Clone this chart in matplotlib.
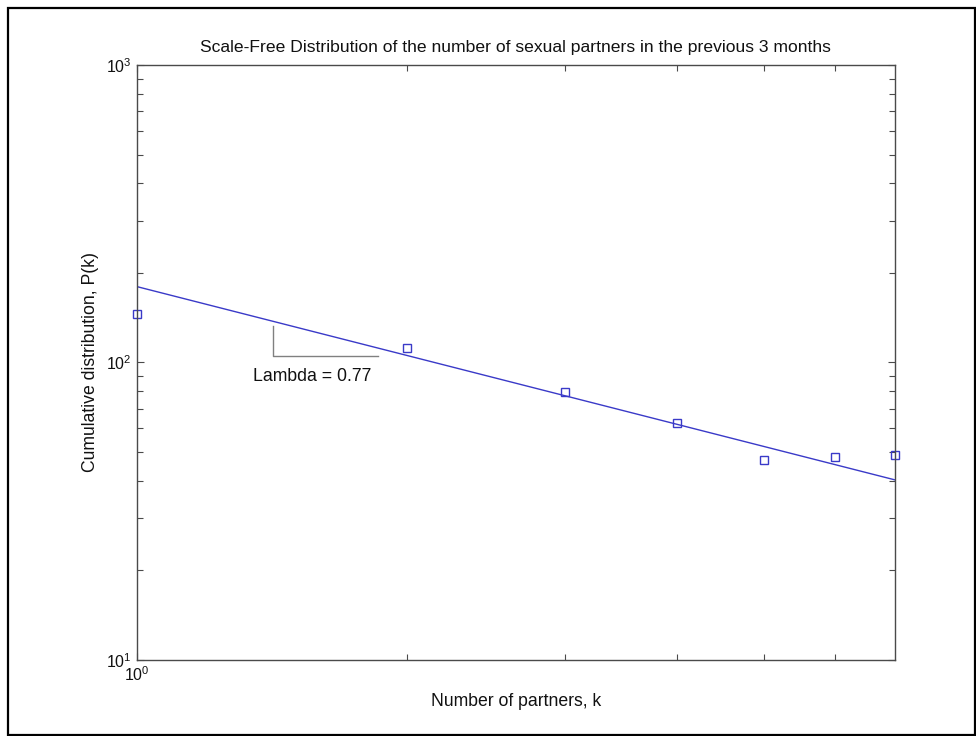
import matplotlib
matplotlib.use("Agg")
import matplotlib.pyplot as plt
from matplotlib.patches import Rectangle
from matplotlib.ticker import LogLocator, NullFormatter, FixedLocator

plt.rcParams['font.family'] = ['Liberation Sans', 'DejaVu Sans']
plt.rcParams['mathtext.fontset'] = 'custom'
plt.rcParams['mathtext.rm'] = 'Liberation Sans'
plt.rcParams['mathtext.it'] = 'Liberation Sans'

# Data
partners_k = [1, 2, 3, 4, 5, 6, 7]
cumulative_p = [146, 112, 79.3, 62.8, 47.1, 48.1, 48.8]
fit_k = [1, 7]
fit_p = [180, 40.3]
lambda_text = "Lambda = 0.77"
tri_k = [1.42, 1.42, 1.857]
tri_p = [132.8, 105.3, 105.3]

title = "Scale-Free Distribution of the number of sexual partners in the previous 3 months"
xlabel = "Number of partners, k"
ylabel = "Cumulative distribution, P(k)"

fig = plt.figure(figsize=(9.76, 7.36), dpi=100)
ax = fig.add_axes([0.140, 0.1033, 0.917 - 0.140, 0.9117 - 0.1033])

axcol = '#4a4a4a'
blue = '#3a3ac8'
txt = '#111111'

ax.loglog(fit_k, fit_p, color=blue, lw=1.0)
ax.loglog(partners_k, cumulative_p, linestyle='none', marker='s', markersize=6,
          markerfacecolor='none', markeredgecolor=blue, markeredgewidth=1.0, clip_on=False)
ax.plot(tri_k, tri_p, color='#808080', lw=1.0)
ax.text(1.571, 89.5, lambda_text, ha='center', va='center', fontsize=12.7, color=txt)

ax.set_xlim(1, 7)
ax.set_ylim(10, 1000)
ax.xaxis.set_major_locator(FixedLocator([1]))
ax.xaxis.set_minor_locator(FixedLocator([2, 3, 4, 5, 6]))
ax.xaxis.set_minor_formatter(NullFormatter())
ax.yaxis.set_major_locator(LogLocator(base=10))
ax.yaxis.set_minor_locator(LogLocator(base=10, subs=range(2, 10)))
ax.yaxis.set_minor_formatter(NullFormatter())

ax.tick_params(which='both', direction='in', top=True, right=True, colors=axcol,
               labelcolor=txt, labelsize=11.5, width=0.8)
ax.tick_params(which='major', length=5)
ax.tick_params(which='minor', length=4)
for s in ax.spines.values():
    s.set_color(axcol)
    s.set_linewidth(1.0)

ax.set_title(title, fontsize=12.6, color=txt, pad=9)
ax.set_xlabel(xlabel, fontsize=12.7, color=txt)
ax.xaxis.set_label_coords(0.5, -0.055)
ax.set_ylabel(ylabel, fontsize=12.7, color=txt)
ax.yaxis.set_label_coords(-0.05, 0.5)

# outer figure frame
fig.patches.append(Rectangle((8 / 976, 1 / 736), (975 - 8) / 976, (728 - 1) / 736,
                             transform=fig.transFigure, fill=False, edgecolor='black',
                             linewidth=1.6))

fig.savefig("out.png", dpi=100)
